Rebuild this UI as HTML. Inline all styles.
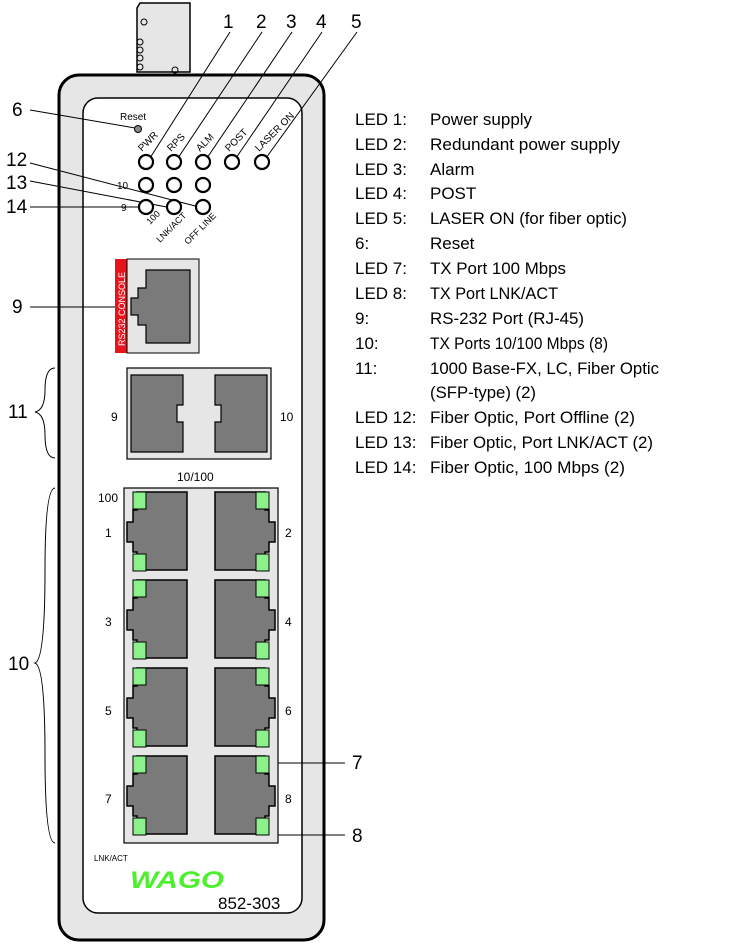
<!DOCTYPE html>
<html><head><meta charset="utf-8"><style>
html,body{margin:0;padding:0;background:#fff;}
svg{display:block;}
text{font-family:"Liberation Sans",sans-serif;}
</style></head><body>
<svg width="729" height="945" viewBox="0 0 729 945" xmlns="http://www.w3.org/2000/svg">
<defs>
<g id="pL">
<path d="M10,0H60V78H10V60H6V50H0V30H6V18H10Z" fill="#7a7a7a" stroke="#000" stroke-width="1.5"/>
<rect x="6" y="0" width="13" height="17" fill="#8cf08c" stroke="#000" stroke-width="1"/>
<rect x="6" y="62" width="13" height="17" fill="#8cf08c" stroke="#000" stroke-width="1"/>
</g>
</defs>
<path d="M140,3H190V72H137V8Z" fill="#e6e6e6" stroke="#000" stroke-width="1.5"/>
<g fill="none" stroke="#000" stroke-width="1"><circle cx="144" cy="22" r="3"/><circle cx="140" cy="42" r="3"/><circle cx="140" cy="50" r="3"/><circle cx="140" cy="58" r="3"/><circle cx="140" cy="67" r="3"/><circle cx="175" cy="70" r="3"/></g>
<rect x="59" y="75" width="265" height="865" rx="20" fill="#e6e6e6" stroke="#000" stroke-width="3"/>
<rect x="83" y="98" width="219" height="815" rx="15" fill="#fff" stroke="#000" stroke-width="1.5"/>
<text x="120" y="120" font-size="10">Reset</text>
<circle cx="138" cy="129" r="3.5" fill="#888" stroke="#000"/>
<g stroke="#000" stroke-width="1" fill="none">
<line x1="30" y1="110" x2="135" y2="128"/>
<line x1="230" y1="32" x2="150" y2="158"/>
<line x1="262" y1="32" x2="178" y2="158"/>
<line x1="292" y1="32" x2="207" y2="158"/>
<line x1="322" y1="32" x2="236" y2="158"/>
<line x1="357" y1="32" x2="266" y2="158"/>
<line x1="30" y1="163" x2="203" y2="208"/>
<line x1="30" y1="181" x2="172" y2="208"/>
<line x1="30" y1="207" x2="140" y2="207"/>
<line x1="30" y1="307" x2="115" y2="307"/>
<line x1="269" y1="763" x2="345" y2="763"/>
<line x1="265" y1="835" x2="345" y2="835"/>
<path d="M55,368 Q45,368 45,390 Q45,410 35,412 Q45,414 45,435 Q45,458 55,458"/>
<path d="M55,488 Q45,488 45,570 Q45,660 35,663 Q45,666 45,755 Q45,843 55,843"/>
</g>
<g font-size="19" fill="#000">
<text x="223" y="28">1</text><text x="256" y="28">2</text><text x="286" y="28">3</text><text x="316" y="28">4</text><text x="351" y="28">5</text>
<text x="12" y="116">6</text><text x="6" y="166">12</text><text x="6" y="189">13</text><text x="6" y="213">14</text>
<text x="12" y="313">9</text><text x="8" y="418">11</text><text x="8" y="670">10</text>
<text x="352" y="769">7</text><text x="352" y="842">8</text>
</g>
<g fill="#fff" stroke="#000" stroke-width="2.2">
<circle cx="146" cy="162" r="7"/><circle cx="174" cy="162" r="7"/><circle cx="203" cy="162" r="7"/><circle cx="232" cy="162" r="7"/><circle cx="262" cy="162" r="7"/>
<circle cx="146" cy="185" r="7"/><circle cx="174" cy="185" r="7"/><circle cx="203" cy="185" r="7"/>
<circle cx="146" cy="207" r="7"/><circle cx="174" cy="207" r="7"/><circle cx="203" cy="207" r="7"/>
</g>
<g font-size="10">
<text transform="translate(142,152) rotate(-45)">PWR</text>
<text transform="translate(171,152) rotate(-45)">RPS</text>
<text transform="translate(200,152) rotate(-45)">ALM</text>
<text transform="translate(229,152) rotate(-45)">POST</text>
<text transform="translate(259,152) rotate(-45)">LASER ON</text>
<text x="117" y="189">10</text><text x="121" y="211">9</text>
<text transform="translate(150,225) rotate(-45)" font-size="9">100</text>
<text transform="translate(160,243) rotate(-45)" font-size="9">LNK/ACT</text>
<text transform="translate(188,245) rotate(-45)" font-size="9">OFF LINE</text>
</g>
<rect x="115" y="259" width="12" height="94" fill="#e8141c"/>
<rect x="127" y="259" width="72" height="94" fill="#e6e6e6" stroke="#000" stroke-width="1"/>
<path d="M146,270H190V343H146V325H138V315H131V298H138V288H146Z" fill="#7a7a7a" stroke="#000" stroke-width="1.2"/>
<text transform="translate(125,346) rotate(-90)" font-size="9" fill="#fff">RS232 CONSOLE</text>
<rect x="127" y="368" width="144" height="91" fill="#e6e6e6" stroke="#000" stroke-width="1.2"/>
<path d="M131,375H183V405H177V422H183V452H131Z" fill="#7a7a7a" stroke="#000" stroke-width="1.2"/>
<path d="M267,375H215V405H221V422H215V452H267Z" fill="#7a7a7a" stroke="#000" stroke-width="1.2"/>
<text x="111" y="421" font-size="12">9</text><text x="280" y="421" font-size="12">10</text>
<text x="177" y="481" font-size="12">10/100</text>
<rect x="124" y="488" width="154" height="355" fill="#e6e6e6" stroke="#000" stroke-width="1.2"/>
<use href="#pL" x="127" y="492"/><use href="#pL" x="127" y="580"/><use href="#pL" x="127" y="668"/><use href="#pL" x="127" y="756"/>
<use href="#pL" transform="translate(275,492) scale(-1,1)"/><use href="#pL" transform="translate(275,580) scale(-1,1)"/>
<use href="#pL" transform="translate(275,668) scale(-1,1)"/><use href="#pL" transform="translate(275,756) scale(-1,1)"/>
<g font-size="12">
<text x="98" y="502">100</text>
<text x="105" y="537">1</text><text x="285" y="537">2</text>
<text x="105" y="626">3</text><text x="285" y="626">4</text>
<text x="105" y="715">5</text><text x="285" y="715">6</text>
<text x="105" y="803">7</text><text x="285" y="803">8</text>
</g>
<text x="94" y="861" font-size="8">LNK/ACT</text>
<text x="130" y="888" font-size="24" font-weight="bold" font-style="italic" fill="#4cf02c" textLength="94" lengthAdjust="spacingAndGlyphs">WAGO</text>
<text x="218" y="909" font-size="17">852-303</text>
<g font-size="17" fill="#000">
<text x="355" y="125">LED 1:</text><text x="430" y="125">Power supply</text>
<text x="355" y="150">LED 2:</text><text x="430" y="150" textLength="190" lengthAdjust="spacingAndGlyphs">Redundant power supply</text>
<text x="355" y="175">LED 3:</text><text x="430" y="175">Alarm</text>
<text x="355" y="199">LED 4:</text><text x="430" y="199">POST</text>
<text x="355" y="224">LED 5:</text><text x="430" y="224" textLength="197" lengthAdjust="spacingAndGlyphs">LASER ON (for fiber optic)</text>
<text x="355" y="249">6:</text><text x="430" y="249">Reset</text>
<text x="355" y="274">LED 7:</text><text x="430" y="274" textLength="136" lengthAdjust="spacingAndGlyphs">TX Port 100 Mbps</text>
<text x="355" y="299">LED 8:</text><text x="430" y="299" textLength="128" lengthAdjust="spacingAndGlyphs">TX Port LNK/ACT</text>
<text x="355" y="324">9:</text><text x="430" y="324" textLength="154" lengthAdjust="spacingAndGlyphs">RS-232 Port (RJ-45)</text>
<text x="355" y="349">10:</text><text x="430" y="349" textLength="178" lengthAdjust="spacingAndGlyphs">TX Ports 10/100 Mbps (8)</text>
<text x="355" y="374">11:</text><text x="430" y="374" textLength="229" lengthAdjust="spacingAndGlyphs">1000 Base-FX, LC, Fiber Optic</text>
<text x="430" y="398" textLength="106" lengthAdjust="spacingAndGlyphs">(SFP-type) (2)</text>
<text x="355" y="423">LED 12:</text><text x="430" y="423" textLength="205" lengthAdjust="spacingAndGlyphs">Fiber Optic, Port Offline (2)</text>
<text x="355" y="448">LED 13:</text><text x="430" y="448" textLength="223" lengthAdjust="spacingAndGlyphs">Fiber Optic, Port LNK/ACT (2)</text>
<text x="355" y="473">LED 14:</text><text x="430" y="473" textLength="195" lengthAdjust="spacingAndGlyphs">Fiber Optic, 100 Mbps (2)</text>
</g>
</svg>
</body></html>
